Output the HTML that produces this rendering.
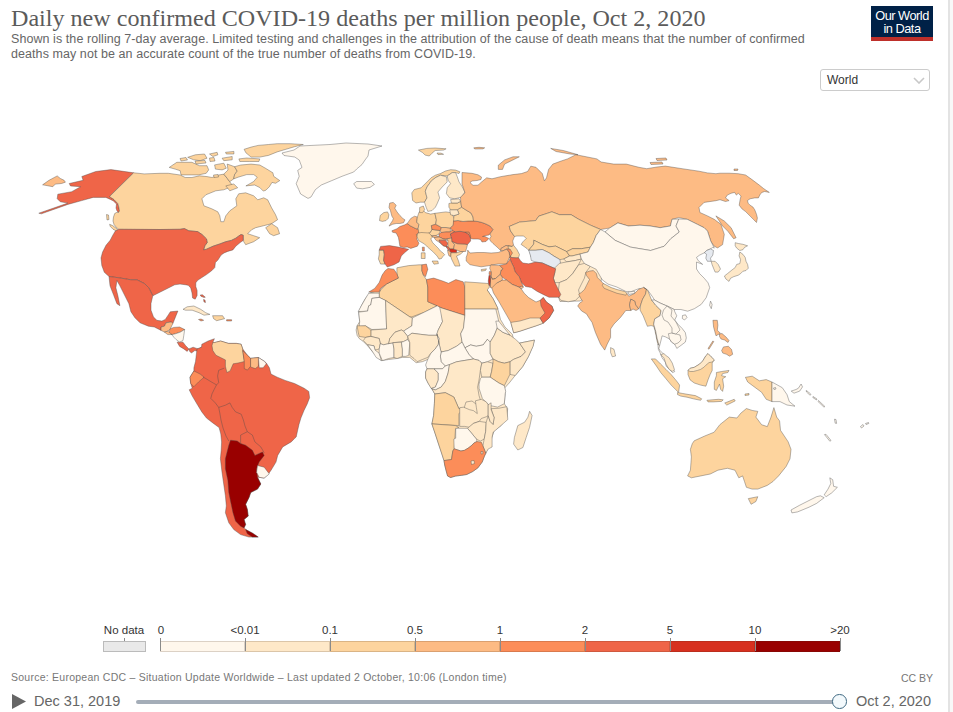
<!DOCTYPE html>
<html><head><meta charset="utf-8">
<style>
html,body{margin:0;padding:0;background:#fff;}
body{width:953px;height:712px;position:relative;overflow:hidden;font-family:"Liberation Sans",sans-serif;}
.abs{position:absolute;white-space:nowrap;}
#title{left:11px;top:5px;font-family:"Liberation Serif",serif;font-size:24.1px;color:#5b5b5b;letter-spacing:0px;}
.sub{left:11px;font-size:12.5px;letter-spacing:0.07px;color:#666;}
#logo{left:871px;top:6px;width:62px;height:35px;background:#002147;}
#logo .bar{position:absolute;left:0;bottom:0;width:62px;height:4px;background:#be2f2a;}
#logo .t{position:absolute;left:0;width:62px;text-align:center;color:#fff;font-size:12.8px;letter-spacing:-0.5px;line-height:13px;}
#sel{left:820px;top:69px;width:108px;height:20px;border:1px solid #ccc;border-radius:3px;}
#sel .t{position:absolute;left:6px;top:3px;font-size:12px;color:#333;}
#edge{left:948px;top:0;width:5px;height:712px;background:linear-gradient(to right,#e3e3e3 0,#e3e3e3 1.6px,#f8f8f8 1.6px,#f8f8f8 100%);}
.lab{position:absolute;top:624px;font-size:11.5px;color:#333;transform:translateX(-50%);}
.bin{position:absolute;top:641px;height:10.5px;border:1px solid rgba(60,40,20,0.18);box-sizing:border-box;}
.tick{position:absolute;top:638px;width:1px;height:13px;background:#8a8a8a;}
#foot{left:11px;top:671px;font-size:10.5px;letter-spacing:0.25px;color:#777;}
#cc{left:901px;top:671.5px;font-size:10.5px;color:#777;}
.date{top:693px;font-size:14.5px;color:#666;}
#track{left:136px;top:700px;width:704px;height:4px;background:#a4adb8;border-radius:2px;}
#knob{left:832.2px;top:694px;width:12.5px;height:12.5px;border:1.6px solid #3f6982;border-radius:50%;background:#f3f9fc;}
</style></head><body>
<div class="abs" id="title">Daily new confirmed COVID-19 deaths per million people, Oct 2, 2020</div>
<div class="abs sub" style="top:31.5px">Shown is the rolling 7-day average. Limited testing and challenges in the attribution of the cause of death means that the number of confirmed</div>
<div class="abs sub" style="top:46.5px">deaths may not be an accurate count of the true number of deaths from COVID-19.</div>
<div class="abs" id="logo"><div class="t" style="top:2.5px">Our World</div><div class="t" style="top:15.5px">in Data</div><div class="bar"></div></div>
<div class="abs" id="sel"><div class="t">World</div>
<svg style="position:absolute;left:92px;top:7px" width="12" height="7" viewBox="0 0 12 7"><path d="M1 1 L6 6 L11 1" fill="none" stroke="#c8c8c8" stroke-width="1.6"/></svg></div>
<div class="abs" id="edge"></div>

<!-- MAP -->
<svg class="abs" style="left:0;top:0" width="953" height="712" viewBox="0 0 953 712" id="map"><g stroke="#4a4a4a" stroke-width="0.4" stroke-linejoin="round"><path d="M133.7,172.8 L110.9,169.6 L95.7,171.5 L81.8,176.5 L83.1,180.3 L69.2,183.5 L70.5,186.0 L80.6,186.7 L71.7,191.7 L57.8,194.2 L57.2,198.7 L60.3,201.8 L67.9,203.1 L38.8,213.2 L41.4,213.8 L67.9,204.4 L81.8,200.6 L93.2,197.4 L105.9,197.4 L110.5,199.5 L113.4,201.0 L116.5,204.0 L116.0,208.0 L117.0,211.0 L118.5,212.5 L119.5,211.0 L118.8,207.0 L117.8,203.5 L114.0,199.5 L109.5,196.5Z" fill="#ef6548"/><path d="M42.6,184.8 L49.0,180.3 L57.2,175.9 L60.3,178.4 L64.1,180.3 L65.4,182.2 L61.6,183.5 L55.3,184.1 L52.8,186.7Z" fill="#fdbb84"/><path d="M133.7,172.8 L144.2,173.9 L160.0,173.3 L168.4,173.3 L180.2,175.0 L185.2,177.5 L191.9,177.5 L199.5,175.8 L207.0,176.6 L212.1,177.5 L218.8,175.0 L223.8,174.1 L227.2,178.3 L229.7,181.7 L232.2,185.0 L228.8,187.8 L223.8,189.8 L215.8,190.8 L205.9,194.8 L201.9,198.8 L203.9,205.8 L211.8,208.8 L217.8,211.8 L219.8,215.8 L220.8,221.7 L223.8,221.7 L225.8,215.8 L229.8,210.8 L236.8,205.8 L235.8,198.8 L238.7,193.8 L245.7,192.8 L253.7,195.8 L257.7,199.8 L263.7,197.8 L267.7,199.8 L271.6,207.8 L275.6,214.8 L277.6,219.7 L271.6,223.7 L263.7,225.7 L255.7,227.7 L251.7,229.7 L247.7,233.7 L253.7,235.7 L259.7,237.7 L253.7,241.7 L245.7,244.7 L243.7,241.7 L243.2,235.2 L241.0,234.5 L238.8,236.0 L235.8,238.2 L231.4,240.4 L225.6,241.8 L219.7,244.0 L213.1,246.2 L206.5,249.2 L203.5,249.9 L205.0,245.5 L207.2,242.6 L206.5,238.9 L202.0,234.5 L197.6,231.6 L188.8,230.8 L184.4,228.6 L180.0,229.3 L160.0,229.5 L118.7,229.3 L116.5,227.5 L114.0,224.5 L113.0,221.0 L113.5,217.0 L114.7,213.5 L116.5,212.5 L118.5,212.5 L119.5,211.0 L118.8,207.0 L117.8,203.5 L114.0,199.5 L109.5,196.5Z" fill="#fdd49e"/><path d="M169.2,167.4 L176.8,162.3 L191.9,162.3 L199.5,165.7 L207.0,165.7 L208.7,169.9 L206.2,173.3 L198.6,174.9 L191.9,174.9 L181.0,174.9 L180.2,170.7 L175.1,169.1Z" fill="#fdd49e"/><path d="M187.7,157.3 L195.3,154.8 L204.5,154.0 L207.0,158.2 L200.3,160.7 L193.6,159.8Z" fill="#fdd49e"/><path d="M209.5,154.0 L217.1,152.3 L217.9,154.8 L212.9,156.5Z" fill="#fdd49e"/><path d="M222.1,158.2 L232.2,156.5 L232.2,159.8 L223.8,160.7Z" fill="#fdd49e"/><path d="M225.5,152.3 L233.9,151.4 L233.9,154.0 L226.3,154.0Z" fill="#fdd49e"/><path d="M214.6,164.9 L223.8,163.2 L226.3,168.2 L222.1,169.9 L215.4,169.1Z" fill="#fdd49e"/><path d="M227.2,164.0 L234.6,166.7 L237.2,171.1 L234.6,174.6 L233.7,178.9 L229.7,181.7 L227.2,178.3 L223.8,174.1 L228.0,170.0Z" fill="#fdd49e"/><path d="M244.1,149.3 L251.1,147.1 L258.1,145.4 L268.5,144.5 L277.2,143.7 L290.3,143.7 L303.3,144.5 L294.6,146.7 L285.9,149.3 L277.2,151.9 L268.5,155.4 L259.8,157.1 L251.1,157.1 L245.9,152.8Z" fill="#fdd49e"/><path d="M238.9,158.9 L246.8,158.0 L259.8,158.9 L258.9,161.5 L249.4,161.5 L239.8,161.5Z" fill="#fdd49e"/><path d="M234.6,166.7 L240.7,165.0 L251.1,164.1 L259.8,165.0 L265.9,168.5 L272.9,172.8 L273.7,176.3 L279.8,180.6 L275.5,183.3 L272.0,182.4 L269.4,186.7 L265.9,190.2 L263.3,191.1 L259.8,187.6 L254.6,185.0 L245.9,185.9 L253.7,181.5 L257.2,177.2 L253.7,174.6 L246.8,174.6 L238.1,177.2 L233.7,178.9 L234.6,174.6 L237.2,171.1Z" fill="#fdd49e"/><path d="M225.8,185.9 L233.8,183.9 L237.7,187.8 L229.8,190.8Z" fill="#fdd49e"/><path d="M109.6,224.3 L112.5,225.5 L116.0,228.0 L118.5,230.8 L117.2,231.5 L113.0,229.2 L110.2,226.3Z" fill="#fdd49e"/><path d="M106.5,214.5 L108.5,215.0 L109.0,219.5 L107.0,220.0Z" fill="#fdd49e"/><path d="M209.5,158.0 L214.0,157.5 L215.0,161.0 L210.0,161.5Z" fill="#fdd49e"/><path d="M180.0,158.5 L186.0,157.5 L187.5,160.0 L181.0,161.0Z" fill="#fdd49e"/><path d="M213.5,175.0 L218.0,174.5 L218.5,177.0 L214.0,177.5Z" fill="#fdd49e"/><path d="M195.0,161.0 L205.0,160.5 L206.0,163.0 L196.0,164.0Z" fill="#fdd49e"/><path d="M265.7,227.7 L271.6,223.7 L277.6,227.7 L279.6,233.7 L273.6,235.7 L269.6,233.7Z" fill="#fdd49e"/><path d="M294.0,150.0 L300.0,146.0 L330.0,144.5 L346.0,143.0 L368.0,144.0 L382.0,146.0 L369.0,150.0 L368.0,156.0 L365.0,160.0 L362.0,164.5 L356.7,169.0 L353.7,172.0 L342.0,176.3 L331.6,180.7 L321.3,185.0 L315.4,189.6 L311.0,197.0 L308.0,198.4 L300.6,194.0 L296.2,183.7 L299.2,176.3 L297.7,170.4 L302.0,167.4 L299.2,160.0 L294.7,157.0 L284.0,155.5 L282.0,153.0Z" fill="#fff7ec"/><path d="M353.7,183.7 L356.7,181.5 L371.4,181.5 L374.4,184.4 L370.0,187.4 L362.6,188.8 L356.7,188.1Z" fill="#fff7ec"/><path d="M118.7,229.3 L160.0,229.5 L180.0,229.3 L184.4,228.6 L188.8,230.8 L197.6,231.6 L202.0,234.5 L206.5,238.9 L207.2,242.6 L205.0,245.5 L203.5,249.9 L206.5,249.2 L213.1,246.2 L219.7,244.0 L225.6,241.8 L231.4,240.4 L235.8,238.2 L238.8,236.0 L241.0,234.5 L243.2,235.2 L243.2,240.4 L240.2,242.6 L235.8,246.2 L232.9,249.9 L227.8,251.4 L224.1,252.9 L221.1,255.1 L217.9,260.1 L215.4,262.6 L214.8,267.6 L211.6,270.8 L206.5,274.6 L201.5,277.8 L197.7,280.3 L195.8,282.8 L195.8,286.6 L197.1,290.4 L197.1,295.5 L195.2,299.2 L192.6,298.0 L192.0,292.9 L190.7,287.9 L188.2,285.3 L185.1,284.7 L180.0,284.1 L174.7,284.8 L166.8,288.8 L158.8,292.8 L152.8,295.8 L148.8,287.8 L144.8,283.8 L136.9,279.8 L130.9,279.8 L118.9,277.8 L109.0,276.5 L104.3,272.3 L101.8,265.5 L101.0,257.9 L102.6,252.0 L106.0,245.3 L110.2,240.2 L112.8,235.2 L115.3,231.0Z" fill="#ef6548"/><path d="M109.0,276.5 L118.9,277.8 L130.9,279.8 L136.9,279.8 L144.8,283.8 L148.8,287.8 L152.8,295.8 L151.0,303.4 L151.0,310.2 L153.5,316.9 L156.8,320.3 L161.9,321.1 L165.3,319.4 L168.6,314.4 L170.3,311.8 L177.9,311.0 L176.2,315.2 L174.5,319.4 L172.9,323.6 L171.2,322.0 L166.1,322.8 L164.4,326.2 L161.1,327.0 L161.1,330.4 L154.3,327.0 L148.4,326.2 L140.0,322.8 L134.9,317.7 L130.9,311.7 L128.9,303.7 L122.9,291.8 L119.9,285.8 L116.9,280.5 L115.9,287.8 L117.9,295.8 L119.9,305.7 L116.9,303.7 L113.9,295.8 L110.0,285.8Z" fill="#ef6548"/><path d="M161.1,330.4 L161.1,327.0 L164.4,326.2 L166.1,322.8 L171.2,322.0 L172.9,323.6 L172.0,325.3 L170.3,328.7 L167.8,331.2 L164.4,332.1Z" fill="#fdbb84"/><path d="M170.3,328.7 L173.7,327.4 L179.6,327.0 L184.7,329.5 L180.4,332.1 L175.4,333.8 L172.0,334.6 L168.6,332.9Z" fill="#fc8d59"/><path d="M164.4,332.1 L167.8,331.2 L172.0,334.6 L167.8,334.6Z" fill="#fdbb84"/><path d="M172.0,334.6 L175.4,333.8 L180.4,332.1 L184.7,329.5 L183.8,335.4 L183.0,340.5 L179.6,342.2 L176.2,339.6 L173.7,337.1Z" fill="#fff7ec"/><path d="M177.1,342.2 L179.6,342.2 L183.0,342.2 L185.5,345.5 L188.9,348.9 L187.2,351.4 L183.8,348.9 L179.6,346.4Z" fill="#ef6548"/><path d="M188.9,348.9 L193.1,347.2 L198.1,348.9 L201.5,347.2 L202.3,349.8 L199.0,351.4 L194.8,350.6 L191.4,353.1 L189.7,351.4Z" fill="#ef6548"/><path d="M183.0,309.3 L187.2,306.8 L193.9,306.0 L200.7,309.3 L205.7,312.7 L209.9,314.4 L204.0,315.2 L199.0,312.7 L192.2,310.2 L185.5,310.2Z" fill="#fee8c8"/><path d="M212.6,315.7 L222.6,315.7 L224.6,318.7 L216.6,320.7 L213.6,318.7Z" fill="#fdd49e"/><path d="M198.5,319.5 L201.0,319.0 L203.7,320.3 L201.0,321.0Z" fill="#fc8d59"/><path d="M226.6,319.7 L231.6,319.7 L231.6,321.0 L226.6,321.0Z" fill="#fc8d59"/><path d="M200.2,295.0 L202.5,294.8 L205.3,297.2 L204.0,297.5 L201.0,296.3Z" fill="#ef6548"/><path d="M203.5,299.5 L205.0,300.0 L205.5,302.5 L204.0,302.0Z" fill="#ef6548"/><path d="M197.0,348.9 L201.5,347.2 L201.8,344.2 L208.1,341.0 L214.4,338.7 L212.8,342.6 L214.4,342.6 L220.6,341.0 L228.5,343.4 L236.4,343.4 L241.1,344.2 L242.7,348.9 L247.4,355.2 L250.6,358.3 L258.4,357.5 L264.7,361.5 L266.3,363.0 L269.4,367.8 L271.0,374.1 L277.3,377.2 L285.2,380.4 L294.6,383.5 L304.1,388.2 L308.8,391.4 L309.6,397.7 L307.2,404.0 L304.1,410.3 L300.9,418.1 L299.0,424.4 L297.5,431.0 L296.2,437.0 L294.6,438.5 L291.2,441.9 L282.7,446.9 L277.7,455.4 L276.0,462.1 L270.9,470.5 L268.4,473.9 L264.2,478.1 L259.1,477.3 L257.5,477.3 L260.8,484.0 L257.5,489.1 L250.7,492.5 L249.0,497.5 L245.6,504.3 L247.3,509.3 L248.2,516.1 L244.0,519.4 L245.6,524.5 L244.0,527.9 L247.3,530.4 L254.1,534.6 L257.5,537.1 L249.0,537.1 L240.6,534.6 L233.8,529.6 L228.8,522.8 L225.4,512.7 L226.3,505.9 L225.4,495.8 L223.7,484.0 L222.0,472.2 L220.4,458.7 L221.2,450.3 L221.6,442.0 L220.8,434.0 L219.1,427.6 L212.8,422.9 L206.5,418.1 L201.8,411.9 L197.0,404.0 L192.3,396.1 L189.2,389.8 L192.3,388.2 L190.7,383.5 L190.0,377.2 L193.9,370.9 L193.9,367.8 L195.5,361.5Z" fill="#ef6548"/><path d="M230.5,440.2 L237.2,441.0 L240.6,443.5 L245.6,445.2 L252.4,450.3 L254.9,455.4 L262.5,452.0 L264.2,455.4 L259.1,462.1 L256.6,468.8 L257.5,477.3 L260.8,484.0 L257.5,489.1 L250.7,492.5 L249.0,497.5 L245.6,504.3 L247.3,509.3 L248.2,516.1 L244.0,519.4 L245.6,524.5 L244.0,527.9 L240.6,526.2 L235.5,521.1 L233.0,512.7 L230.5,500.9 L228.8,492.5 L227.9,480.6 L225.4,468.8 L225.4,458.7 L227.1,452.0 L228.8,445.2Z" fill="#990000"/><path d="M245.6,529.6 L252.4,532.9 L258.3,537.1 L252.4,537.1 L247.3,533.8Z" fill="#990000"/><path d="M257.5,465.5 L264.2,467.2 L269.3,473.9 L264.2,478.1 L259.1,477.3 L256.6,472.2Z" fill="#fff7ec"/><path d="M212.8,342.6 L214.4,342.6 L220.6,341.0 L228.5,343.4 L236.4,343.4 L241.1,344.2 L242.7,348.9 L242.7,350.5 L244.3,361.5 L238.0,363.0 L233.2,363.8 L230.1,370.9 L226.9,372.5 L225.4,366.2 L225.4,359.9 L220.6,357.5 L215.9,355.2 L212.8,350.5 L212.0,345.7Z" fill="#fdd49e"/><path d="M242.7,350.5 L247.4,355.2 L250.6,358.3 L250.6,366.2 L247.4,370.1 L244.3,368.6 L244.3,361.5Z" fill="#fc8d59"/><path d="M250.6,358.3 L258.4,357.5 L258.4,366.2 L255.3,368.6 L250.6,367.0Z" fill="#fdbb84"/><path d="M258.4,357.5 L264.7,361.5 L266.3,363.8 L263.1,367.8 L259.2,367.8Z" fill="#fff7ec"/><path d="M193.9,370.9 L190.0,377.2 L190.7,383.5 L193.9,386.7 L198.6,381.9 L204.1,377.2 L200.2,374.1Z" fill="#fc8d59"/><path d="M411.8,192.9 L414.3,189.5 L421.1,187.8 L427.0,181.9 L431.2,177.7 L435.4,175.2 L440.5,173.5 L445.5,171.0 L450.6,169.7 L455.6,170.1 L459.9,171.8 L459.0,173.5 L455.6,172.6 L452.3,172.6 L447.2,176.0 L440.5,175.2 L435.4,177.7 L431.2,181.1 L427.0,187.0 L425.3,191.2 L427.0,197.9 L424.5,202.2 L420.2,202.2 L416.0,203.0 L412.6,200.5Z" fill="#fdd49e"/><path d="M425.3,191.2 L427.0,187.0 L431.2,181.1 L435.4,177.7 L440.5,175.2 L446.4,176.9 L447.2,181.9 L442.2,187.0 L437.9,192.0 L439.6,197.9 L437.1,203.8 L435.4,207.2 L432.0,210.6 L427.8,211.4 L426.1,207.2 L424.5,202.2 L427.0,197.9Z" fill="#fee8c8"/><path d="M447.2,176.0 L452.3,172.6 L455.6,172.6 L457.3,176.9 L459.0,181.9 L462.4,187.0 L464.9,192.0 L461.6,197.1 L454.8,198.8 L449.7,197.9 L446.4,193.7 L447.2,187.8 L450.6,183.6 L448.1,180.2Z" fill="#fee8c8"/><path d="M389.7,203.1 L393.3,202.4 L396.2,205.3 L394.8,208.2 L397.0,211.9 L399.9,215.5 L402.8,218.4 L405.0,219.9 L403.5,222.8 L399.9,223.5 L396.2,223.5 L392.6,224.3 L389.0,226.1 L391.1,222.8 L392.6,220.6 L393.3,218.4 L391.9,216.2 L391.1,213.3 L390.4,210.4 L389.0,207.5Z" fill="#fdbb84"/><path d="M380.2,215.5 L383.8,212.6 L387.5,211.9 L388.9,214.8 L388.2,218.4 L386.0,220.6 L382.4,221.4 L379.5,220.6Z" fill="#fdd49e"/><path d="M379.2,250.1 L383.6,250.1 L384.3,254.5 L383.6,260.4 L385.1,264.1 L380.6,264.1 L378.4,258.9 L379.2,254.5Z" fill="#fdd49e"/><path d="M380.6,246.4 L389.5,245.6 L398.3,247.1 L408.7,249.3 L404.2,253.0 L401.3,256.0 L399.1,261.9 L393.9,264.8 L387.3,267.0 L385.1,264.1 L383.6,260.4 L384.3,254.5 L383.6,250.1 L379.2,250.1Z" fill="#ef6548"/><path d="M391.9,230.8 L397.0,228.7 L399.9,226.5 L404.3,225.0 L407.2,223.5 L410.1,225.7 L416.0,228.7 L419.6,230.1 L418.1,236.0 L416.7,238.9 L418.9,243.3 L417.4,246.2 L410.8,248.4 L407.2,246.9 L403.5,247.6 L399.9,246.2 L399.2,241.8 L398.4,237.4 L396.2,233.0 L392.6,232.3Z" fill="#fc8d59"/><path d="M408.7,221.4 L410.8,218.4 L414.5,216.2 L417.4,217.0 L416.7,222.1 L418.9,224.3 L418.1,228.7 L416.0,228.7 L410.1,225.7 L407.2,223.5Z" fill="#fdbb84"/><path d="M417.4,217.0 L418.9,212.6 L421.8,208.9 L425.4,212.6 L430.6,214.1 L434.9,213.3 L436.4,219.9 L435.7,224.3 L431.3,225.7 L432.0,229.4 L430.6,232.3 L426.2,234.5 L421.8,233.8 L418.9,233.8 L418.1,228.7 L418.9,224.3 L416.7,222.1Z" fill="#fdd49e"/><path d="M419.6,207.5 L423.3,206.0 L424.7,209.7 L422.5,212.6 L419.6,212.6Z" fill="#fdd49e"/><path d="M416.3,234.5 L418.9,233.8 L421.8,233.8 L423.2,235.5 L421.5,237.6 L417.5,237.2Z" fill="#fdd49e"/><path d="M421.3,233.0 L426.2,234.5 L430.6,232.3 L432.0,229.4 L436.0,230.0 L440.3,230.5 L439.0,234.0 L436.0,235.5 L431.5,236.0 L425.0,236.5 L421.3,234.5Z" fill="#fdd49e"/><path d="M431.3,225.7 L435.7,224.3 L439.0,226.0 L441.5,227.5 L440.3,230.5 L436.0,230.0 L432.0,229.4Z" fill="#fc8d59"/><path d="M440.3,230.5 L441.5,227.5 L446.0,227.5 L450.4,228.0 L450.4,232.0 L446.0,232.0 L441.0,232.6Z" fill="#fdbb84"/><path d="M434.9,213.3 L445.8,211.9 L450.0,212.5 L452.7,215.0 L454.6,219.3 L453.2,225.2 L450.4,228.0 L446.0,227.5 L441.5,227.5 L439.0,226.0 L435.7,224.3 L436.4,219.9Z" fill="#fdd49e"/><path d="M439.0,234.0 L441.0,232.6 L446.0,232.0 L450.4,232.0 L452.0,230.0 L455.0,231.8 L450.4,234.0 L451.7,238.0 L446.6,238.9 L443.4,238.9 L439.0,237.0Z" fill="#fc8d59"/><path d="M417.5,233.2 L421.3,232.5 L429.0,233.0 L432.7,237.0 L430.8,238.9 L432.7,242.7 L435.2,245.2 L438.4,248.4 L440.3,250.9 L442.8,252.8 L444.7,254.7 L442.8,256.6 L441.5,258.5 L439.0,259.1 L437.1,256.0 L432.7,251.5 L427.6,247.1 L424.5,244.0 L418.8,240.8 L417.0,237.0Z" fill="#fdd49e"/><path d="M432.1,261.0 L437.8,261.0 L438.4,263.6 L434.0,264.2Z" fill="#fdd49e"/><path d="M421.3,252.8 L425.1,252.8 L425.1,258.5 L421.3,258.5Z" fill="#fdd49e"/><path d="M422.3,247.2 L424.3,247.2 L424.3,251.0 L422.5,251.0Z" fill="#fc8d59"/><path d="M431.5,236.0 L436.0,235.5 L439.0,237.0 L434.0,237.6Z" fill="#fdbb84"/><path d="M434.0,237.6 L439.0,237.0 L443.4,238.9 L447.9,240.2 L445.3,240.2 L439.0,240.2 L440.3,242.7 L443.4,245.9 L446.6,246.5 L447.0,248.0 L444.7,244.0 L441.5,244.0 L439.0,242.1 L435.9,240.2Z" fill="#fdbb84"/><path d="M439.0,240.2 L445.3,240.2 L447.9,243.3 L446.6,246.5 L443.4,245.9 L440.3,242.7Z" fill="#ef6548"/><path d="M446.6,238.9 L451.7,238.0 L452.0,241.4 L454.5,244.5 L453.5,249.0 L449.8,249.0 L448.0,246.5 L447.9,243.3 L447.9,240.2Z" fill="#fdbb84"/><path d="M446.6,246.5 L448.0,246.5 L449.8,249.0 L448.5,250.5 L447.0,248.0Z" fill="#ef6548"/><path d="M449.8,249.0 L453.5,249.0 L456.7,250.0 L456.7,252.8 L451.0,252.8 L449.5,251.0Z" fill="#d7301f"/><path d="M447.5,250.0 L449.5,251.0 L451.0,252.8 L450.8,256.5 L449.0,256.0 L448.0,253.0Z" fill="#fdbb84"/><path d="M450.8,256.5 L451.0,252.8 L456.7,252.8 L460.5,251.5 L463.5,251.5 L460.0,254.5 L456.5,256.0 L458.5,261.0 L460.0,266.0 L455.0,266.1 L453.0,262.0 L451.5,259.0Z" fill="#fdd49e"/><path d="M452.0,241.4 L457.6,243.7 L465.0,244.0 L467.5,244.6 L466.5,248.5 L465.6,251.5 L460.5,251.5 L456.7,250.0 L453.5,249.0 L454.5,244.5Z" fill="#fdbb84"/><path d="M450.4,234.0 L455.0,231.8 L460.0,231.3 L465.0,232.0 L469.0,234.5 L470.6,238.0 L470.6,241.0 L467.5,244.6 L465.0,244.0 L457.6,243.7 L452.0,241.4 L451.7,238.0Z" fill="#ef6548"/><path d="M465.0,232.0 L469.0,231.5 L471.5,236.0 L470.6,238.0 L469.0,234.5Z" fill="#fc8d59"/><path d="M453.5,221.0 L458.0,220.5 L463.0,221.5 L468.0,221.0 L473.5,221.0 L478.0,221.5 L482.0,222.5 L486.0,224.0 L490.0,226.0 L493.1,229.5 L491.0,232.5 L489.0,235.0 L486.0,235.5 L482.5,236.5 L485.0,236.5 L488.9,238.5 L486.0,241.5 L482.0,242.0 L480.5,239.5 L478.0,239.0 L473.0,239.0 L470.6,238.5 L470.6,236.0 L469.0,232.0 L465.0,232.0 L460.0,231.3 L455.0,231.8 L452.0,230.0 L450.4,228.0 L453.2,225.2Z" fill="#fc8d59"/><path d="M457.3,209.7 L461.6,207.2 L466.0,210.0 L471.0,213.0 L473.0,217.0 L473.5,221.0 L468.0,221.0 L463.0,221.5 L458.0,220.5 L453.5,221.0 L454.0,215.6 L459.0,214.0Z" fill="#fdd49e"/><path d="M449.7,209.7 L457.3,209.7 L459.0,214.0 L454.0,215.6 L450.6,214.8Z" fill="#fee8c8"/><path d="M448.9,203.5 L451.4,203.0 L457.3,203.0 L460.7,201.3 L461.6,207.2 L457.3,209.7 L450.6,209.7 L448.9,207.2Z" fill="#fdd49e"/><path d="M450.6,199.6 L459.0,198.8 L460.7,201.3 L457.3,203.0 L451.4,203.0Z" fill="#fee8c8"/><path d="M418.4,150.1 L426.8,148.4 L435.2,148.0 L446.1,148.8 L443.6,150.1 L435.2,150.5 L431.8,153.4 L429.3,156.0 L425.1,155.1 L422.6,152.6Z" fill="#fdd49e"/><path d="M437.0,153.0 L441.0,153.2 L443.6,154.3 L438.0,154.6Z" fill="#fdd49e"/><path d="M462.0,172.5 L466.0,172.8 L472.0,173.3 L478.0,174.8 L481.5,177.0 L481.0,179.5 L477.0,180.5 L472.0,181.0 L470.0,182.5 L473.0,185.3 L478.0,185.2 L481.5,182.0 L486.7,177.8 L492.0,178.8 L500.4,176.7 L513.0,174.6 L521.4,173.6 L527.6,171.5 L530.8,166.2 L536.0,167.3 L542.3,173.6 L544.4,180.9 L546.5,177.8 L548.6,169.4 L552.8,164.1 L561.2,161.0 L567.5,158.9 L575.9,154.7 L586.4,156.8 L596.9,158.9 L601.1,162.0 L613.7,164.1 L626.3,164.1 L638.9,167.3 L646.7,168.7 L656.9,167.0 L665.3,166.1 L682.2,168.7 L699.0,171.2 L707.5,172.9 L715.9,173.7 L720.0,173.2 L729.1,173.2 L738.3,173.7 L745.6,175.0 L752.0,179.6 L759.3,185.1 L763.8,188.7 L769.3,192.4 L764.7,191.5 L762.0,192.4 L760.2,194.2 L758.4,197.9 L754.7,197.9 L750.1,198.8 L747.4,200.6 L748.3,203.4 L750.1,205.2 L752.9,207.0 L754.7,209.7 L756.5,214.3 L757.4,218.0 L756.5,222.5 L753.8,219.8 L750.1,216.1 L745.6,211.6 L741.9,208.8 L739.2,205.2 L740.1,199.7 L741.0,196.1 L738.3,193.3 L736.4,195.1 L734.6,192.4 L731.0,193.3 L727.3,195.1 L725.5,197.9 L729.1,200.6 L725.5,201.5 L720.0,199.7 L715.9,200.7 L704.1,202.4 L699.0,207.5 L699.9,212.5 L707.5,215.9 L714.2,219.3 L720.9,224.3 L724.3,234.4 L722.6,244.6 L717.6,247.9 L714.2,246.2 L710.8,241.2 L707.5,231.1 L704.1,227.7 L697.3,224.3 L687.2,219.3 L678.8,217.6 L672.0,219.3 L670.4,226.0 L660.2,227.7 L650.1,226.0 L640.0,225.2 L628.4,226.0 L617.9,222.9 L609.5,228.1 L600.6,229.5 L590.3,225.1 L578.5,219.2 L571.1,214.7 L559.3,214.7 L551.9,211.8 L538.7,216.2 L535.7,220.6 L519.5,222.1 L509.2,226.5 L510.6,231.0 L514.5,236.5 L512.7,241.0 L513.5,245.2 L512.0,246.5 L506.0,245.5 L501.0,248.5 L500.7,250.6 L497.0,247.0 L493.0,243.5 L490.5,241.0 L489.5,239.0 L491.0,236.5 L490.0,234.0 L491.0,232.5 L493.1,229.5 L490.0,226.0 L486.0,224.0 L482.0,222.5 L478.0,221.5 L473.5,221.0 L473.0,217.0 L471.0,213.0 L466.0,210.0 L461.6,207.2 L460.7,201.3 L460.5,197.2 L465.0,192.8 L462.0,183.9Z" fill="#fdbb84"/><path d="M498.3,165.2 L504.6,159.9 L513.0,156.8 L519.3,156.8 L513.0,159.9 L504.6,164.1 L502.5,169.4 L498.3,169.4Z" fill="#fdbb84"/><path d="M550.7,148.4 L563.3,150.5 L578.0,154.7 L570.0,154.0 L556.0,151.5Z" fill="#fdbb84"/><path d="M473.8,147.8 L479.0,147.3 L484.7,147.8 L483.0,148.9 L474.7,149.0Z" fill="#fdbb84"/><path d="M650.0,162.5 L662.0,162.0 L663.0,164.0 L651.0,164.5Z" fill="#fdbb84"/><path d="M656.0,158.5 L666.0,158.0 L667.0,160.0 L657.0,160.5Z" fill="#fdbb84"/><path d="M734.0,169.0 L738.0,169.0 L737.5,170.5 L734.0,170.5Z" fill="#fdbb84"/><path d="M715.9,215.9 L724.3,221.0 L731.1,227.7 L736.1,237.8 L733.6,238.7 L727.7,231.1 L722.6,226.0Z" fill="#fdbb84"/><path d="M529.0,248.0 L560.0,247.0 L575.0,247.0 L590.0,246.0 L600.0,232.0 L606.0,240.0 L600.0,290.0 L580.0,301.0 L560.0,301.5 L556.0,290.0 L553.0,280.0 L549.0,265.0 L531.0,257.0Z" fill="#fee8c8"/><path d="M509.2,226.5 L519.5,222.1 L535.7,220.6 L538.7,216.2 L551.9,211.8 L559.3,214.7 L571.1,214.7 L578.5,219.2 L590.3,225.1 L600.6,229.5 L596.2,235.4 L593.2,242.8 L590.3,247.2 L581.4,248.7 L572.6,248.7 L566.7,251.6 L560.8,248.7 L555.7,246.1 L549.0,246.9 L542.2,244.4 L533.8,240.2 L533.8,244.0 L528.7,250.3 L527.0,248.6 L521.1,244.4 L522.8,241.9 L526.2,238.5 L523.7,236.0 L516.9,236.0 L514.5,236.5 L510.6,231.0Z" fill="#fdd49e"/><path d="M533.8,240.2 L542.2,244.4 L549.0,246.9 L555.7,246.1 L560.8,248.7 L566.7,251.6 L569.6,256.0 L563.7,259.0 L559.9,259.6 L554.0,256.2 L549.0,252.8 L542.2,249.5 L535.5,250.3 L528.7,250.3 L533.8,244.0Z" fill="#fdd49e"/><path d="M528.7,250.3 L535.5,250.3 L542.2,249.5 L549.0,252.8 L554.0,256.2 L559.9,259.6 L560.8,264.6 L555.7,268.8 L549.8,266.3 L542.2,262.9 L535.5,262.1 L531.3,260.4 L530.4,255.4Z" fill="#e6eaf0"/><path d="M566.7,251.6 L572.6,248.7 L581.4,248.7 L590.3,247.2 L588.0,252.0 L580.0,254.0 L572.0,256.0 L569.6,256.0Z" fill="#fdd49e"/><path d="M569.6,256.0 L572.0,256.0 L580.0,254.0 L581.4,259.0 L575.5,260.5 L566.7,261.9 L563.7,259.0Z" fill="#fee8c8"/><path d="M559.3,263.4 L566.7,261.9 L575.5,260.5 L581.4,259.0 L578.5,264.9 L575.5,269.3 L572.6,273.7 L566.7,279.6 L559.3,282.6 L554.9,282.6 L553.4,278.2 L554.9,272.3 L554.9,267.8Z" fill="#fee8c8"/><path d="M578.5,264.9 L584.4,263.4 L590.3,266.4 L585.9,272.3 L584.4,278.2 L581.4,284.1 L578.5,290.0 L580.0,295.9 L575.5,300.3 L568.2,301.8 L560.8,300.3 L557.8,295.9 L559.3,282.6 L566.7,279.6 L572.6,273.7Z" fill="#fee8c8"/><path d="M500.7,250.6 L501.0,248.5 L506.0,245.5 L512.0,246.5 L510.0,249.0 L506.5,249.2 L503.0,250.8Z" fill="#fdbb84"/><path d="M508.0,246.0 L512.0,246.5 L513.5,245.2 L516.9,249.5 L519.5,254.5 L518.5,257.8 L516.1,257.9 L512.2,257.6 L510.0,256.9 L509.0,252.0Z" fill="#fdd49e"/><path d="M506.5,249.2 L510.0,249.0 L512.5,253.0 L510.0,256.9 L509.0,252.0Z" fill="#fc8d59"/><path d="M467.7,250.1 L470.0,253.0 L477.0,252.5 L484.1,252.5 L491.1,253.0 L498.1,252.5 L500.7,251.5 L503.0,250.8 L506.5,249.2 L509.0,252.0 L510.0,256.9 L509.4,257.5 L506.5,264.0 L498.1,264.0 L491.1,265.0 L490.4,265.4 L486.2,266.1 L481.2,266.8 L477.0,266.1 L470.0,264.7 L466.2,261.0 L466.2,257.4 L467.7,253.0Z" fill="#fdbb84"/><path d="M509.4,256.9 L512.2,257.6 L516.1,257.9 L518.5,257.8 L520.3,260.4 L522.8,263.0 L528.7,263.8 L535.5,262.1 L542.2,262.9 L549.8,266.3 L555.7,268.8 L554.9,272.3 L553.4,278.2 L554.9,282.6 L557.8,288.5 L560.8,294.4 L559.3,297.3 L549.0,297.3 L543.1,294.4 L537.2,291.4 L531.3,287.5 L525.5,286.5 L521.3,282.2 L519.2,276.6 L515.0,271.7 L513.6,266.8 L511.5,262.6Z" fill="#ef6548"/><path d="M499.5,265.4 L506.5,264.0 L510.0,259.1 L511.5,262.6 L513.6,266.8 L515.0,271.7 L519.2,276.6 L521.3,282.2 L523.4,286.5 L519.2,287.2 L512.2,284.4 L506.5,280.1 L502.3,277.3 L500.2,274.5 L500.9,270.3 L503.0,268.9Z" fill="#fc8d59"/><path d="M490.4,265.4 L491.1,265.0 L499.5,265.4 L503.0,268.9 L500.9,270.3 L500.2,274.5 L495.3,278.7 L492.5,279.4 L491.1,276.6 L491.1,271.7 L489.7,268.2Z" fill="#fdbb84"/><path d="M490.4,287.2 L490.4,280.8 L491.1,276.6 L492.5,279.4 L495.3,278.7 L496.7,283.0 L502.3,280.1 L506.5,280.1 L512.2,284.4 L519.2,287.2 L521.0,288.5 L524.2,293.2 L528.7,297.6 L536.0,302.0 L540.3,300.3 L543.2,297.4 L546.2,301.8 L552.1,306.2 L553.6,310.6 L549.1,318.0 L543.2,323.2 L537.3,325.4 L528.5,328.3 L519.6,331.3 L513.7,332.8 L510.8,322.4 L504.9,312.1 L499.0,301.8 L493.5,293.0 L491.8,287.9Z" fill="#fdbb84"/><path d="M510.8,322.4 L520.0,321.0 L530.0,318.0 L540.0,318.0 L543.2,323.2 L537.3,325.4 L528.5,328.3 L519.6,331.3 L513.7,332.8Z" fill="#fee8c8"/><path d="M543.4,297.6 L546.2,301.8 L552.1,306.2 L553.6,310.6 L549.1,318.0 L543.2,323.2 L540.0,318.0 L545.0,313.0 L541.0,306.0 L540.3,300.3Z" fill="#ef6548"/><path d="M490.4,280.8 L491.1,276.6 L492.5,279.4 L495.3,278.7 L500.2,274.5 L502.3,277.3 L502.3,280.1 L496.7,283.0 L493.9,285.8 L491.8,287.9 L490.4,287.2Z" fill="#fdbb84"/><path d="M489.0,275.2 L490.4,275.9 L490.4,280.8 L489.7,285.8 L488.6,285.8 L488.3,280.8Z" fill="#d7301f"/><path d="M489.3,271.5 L491.1,271.7 L491.1,275.5 L489.8,275.5 L489.0,274.0Z" fill="#fc8d59"/><path d="M519.5,287.0 L522.0,286.0 L523.4,287.5 L521.0,288.8Z" fill="#fdbb84"/><path d="M481.2,269.5 L486.5,268.8 L485.5,270.5 L481.5,271.2Z" fill="#fdd49e"/><path d="M605.0,231.9 L609.5,228.1 L617.9,222.9 L628.4,226.0 L640.0,225.2 L650.1,226.0 L660.2,227.7 L670.4,226.0 L672.0,219.3 L678.8,219.0 L676.0,226.0 L679.3,232.0 L670.8,238.7 L664.1,246.3 L650.6,250.5 L630.4,247.1 L615.2,240.4Z" fill="#fff7ec"/><path d="M590.3,247.2 L593.2,242.8 L596.2,235.4 L600.6,229.5 L605.0,231.9 L615.2,240.4 L630.4,247.1 L650.6,250.5 L664.1,246.3 L670.8,238.7 L679.3,232.0 L676.0,226.0 L678.8,219.0 L687.2,219.3 L697.3,224.3 L704.1,227.7 L707.5,231.1 L710.8,241.2 L714.3,248.1 L712.8,247.4 L710.5,248.9 L706.6,250.5 L704.3,252.8 L699.6,255.1 L696.5,257.4 L698.1,260.5 L702.7,264.4 L696.5,262.0 L696.5,269.0 L699.6,273.6 L704.3,278.3 L708.1,282.9 L709.7,287.6 L706.2,297.7 L701.2,304.4 L694.4,308.7 L687.7,311.2 L680.9,309.5 L674.2,309.5 L667.0,306.0 L660.0,303.0 L654.4,300.0 L652.7,297.0 L647.7,290.2 L639.3,288.5 L630.0,292.0 L625.7,291.4 L616.8,287.0 L608.0,284.1 L602.1,279.6 L596.2,269.3 L590.3,266.4 L584.4,263.4 L581.4,259.0 L580.0,254.0 L588.0,252.0Z" fill="#fff7ec"/><path d="M706.6,250.5 L710.5,248.9 L713.5,250.5 L712.8,255.1 L710.5,258.2 L711.2,261.3 L707.4,261.3 L705.8,258.2 L706.6,254.3 L704.3,252.8Z" fill="#e6eaf0"/><path d="M711.2,261.3 L715.1,261.3 L718.2,264.4 L720.5,269.0 L718.2,272.1 L715.1,272.1 L713.5,268.2 L712.0,264.4Z" fill="#fee8c8"/><path d="M739.8,252.0 L742.9,254.3 L745.2,257.4 L746.0,261.3 L747.6,264.4 L748.3,268.2 L746.0,270.5 L742.9,271.3 L740.6,273.6 L738.3,275.2 L733.6,276.7 L730.5,278.3 L729.0,281.4 L725.9,279.0 L724.4,276.0 L727.5,273.6 L731.3,270.5 L735.2,267.5 L736.7,264.4 L739.8,263.6 L740.6,259.7 L739.1,255.9Z" fill="#fee8c8"/><path d="M735.2,242.7 L738.3,243.5 L742.9,244.3 L747.6,245.8 L744.5,247.4 L742.9,249.7 L739.8,250.5 L736.7,248.1 L735.2,245.8Z" fill="#fee8c8"/><path d="M710.5,301.1 L712.1,304.4 L711.3,308.7 L709.6,305.3Z" fill="#fff7ec"/><path d="M585.6,272.6 L589.5,271.1 L593.4,270.6 L596.4,273.6 L597.4,277.5 L599.3,279.5 L603.3,283.4 L605.2,285.4 L611.1,288.3 L617.0,290.3 L624.9,292.3 L626.9,293.3 L628.8,296.2 L634.7,293.3 L638.7,289.3 L643.6,287.4 L646.5,289.3 L645.5,294.2 L642.6,299.2 L640.6,305.1 L638.7,309.0 L635.7,305.1 L634.7,301.1 L630.8,299.2 L629.5,305.0 L630.8,310.5 L625.8,310.5 L620.7,317.2 L614.0,324.0 L610.6,329.0 L610.6,337.5 L607.2,344.2 L604.7,350.1 L600.5,344.2 L595.4,332.4 L592.0,322.3 L589.5,318.8 L586.5,313.9 L581.6,311.0 L577.7,306.0 L579.7,303.1 L582.6,301.1 L580.6,298.2 L578.7,294.2 L581.6,292.3 L584.6,289.3 L586.5,285.4 L589.5,279.5 L586.5,275.6Z" fill="#fdbb84"/><path d="M630.8,299.2 L634.7,301.1 L635.7,305.1 L638.7,309.0 L636.0,310.5 L633.0,309.0 L630.8,310.5 L629.5,305.0Z" fill="#fdbb84"/><path d="M627.8,292.0 L634.7,291.3 L634.7,293.3 L628.8,294.5Z" fill="#fff7ec"/><path d="M603.3,283.4 L611.1,287.5 L617.0,289.5 L624.9,291.5 L626.9,293.3 L625.9,295.2 L617.0,293.3 L609.2,290.3 L604.2,288.3 L602.3,285.4Z" fill="#fdd49e"/><path d="M610.6,347.6 L614.0,349.3 L615.6,356.0 L612.3,356.8 L610.6,352.6Z" fill="#fee8c8"/><path d="M643.6,287.4 L647.7,290.2 L651.6,300.0 L655.8,305.3 L661.1,310.5 L660.0,315.8 L654.7,318.9 L653.7,324.2 L655.8,331.6 L657.0,338.0 L659.0,345.3 L657.9,344.2 L656.8,340.0 L655.8,334.7 L654.7,329.5 L653.7,326.3 L651.1,325.6 L647.4,326.3 L645.3,321.1 L643.2,315.8 L640.0,310.0 L640.6,305.1 L642.6,299.2 L645.5,294.2 L646.5,289.3Z" fill="#fdd49e"/><path d="M651.6,300.0 L654.4,300.0 L660.0,303.0 L667.0,306.0 L674.2,309.5 L674.7,311.6 L676.8,315.8 L674.7,320.0 L677.9,324.2 L682.1,328.4 L685.3,332.6 L686.3,337.9 L685.3,342.1 L681.1,345.3 L676.8,348.4 L674.7,344.2 L671.6,342.1 L669.5,338.9 L665.3,336.8 L662.1,335.8 L661.1,340.0 L660.0,344.2 L658.9,348.4 L660.0,350.5 L663.2,353.7 L665.3,357.9 L668.4,361.1 L670.5,365.3 L673.7,369.5 L674.7,371.6 L672.6,372.6 L669.5,369.5 L666.3,366.3 L665.3,362.1 L662.1,357.9 L660.0,352.6 L658.4,349.5 L657.9,344.2 L659.0,345.3 L657.0,338.0 L655.8,331.6 L653.7,324.2 L654.7,318.9 L660.0,315.8 L661.1,310.5 L655.8,305.3Z" fill="#fff7ec"/><path d="M660.7,354.7 L663.9,353.6 L666.0,355.5 L669.1,357.8 L672.3,363.1 L674.4,369.4 L672.3,371.5 L669.1,369.4 L666.0,364.1 L663.9,357.8Z" fill="#fee8c8"/><path d="M668.4,333.7 L672.0,333.0 L676.0,334.0 L680.0,335.0 L681.1,340.0 L678.0,343.0 L674.7,344.2 L671.6,342.1 L669.5,338.9Z" fill="#fff7ec"/><path d="M663.5,310.0 L667.0,306.0 L672.0,310.0 L671.0,316.0 L676.0,322.0 L680.0,330.0 L676.0,334.0 L672.0,333.0 L672.0,328.0 L668.0,322.0 L664.0,320.0 L662.0,315.0Z" fill="#fff7ec"/><path d="M682.5,315.5 L685.5,314.8 L687.0,317.5 L684.5,320.0 L682.3,318.5Z" fill="#fff7ec"/><path d="M651.3,358.9 L655.5,358.9 L660.7,364.1 L666.0,369.4 L671.2,374.6 L676.5,380.9 L679.6,385.1 L678.6,392.5 L675.4,389.3 L671.2,385.1 L666.0,378.8 L660.7,372.5 L656.5,366.2Z" fill="#fdd49e"/><path d="M677.5,392.5 L682.8,393.5 L689.1,394.6 L695.4,395.6 L701.7,398.8 L700.6,400.3 L693.3,398.8 L687.0,397.2 L680.7,396.1 L677.5,394.6Z" fill="#fdd49e"/><path d="M688.0,370.4 L690.1,368.3 L694.3,367.3 L699.6,364.1 L702.7,361.0 L705.9,355.7 L708.0,353.6 L711.1,356.8 L714.3,359.9 L712.2,363.1 L712.2,370.4 L710.1,374.6 L708.0,379.9 L705.9,386.2 L700.6,385.1 L694.3,383.0 L690.1,379.9 L688.0,374.6Z" fill="#fdd49e"/><path d="M688.0,370.4 L690.1,368.3 L694.3,367.3 L699.6,364.1 L702.7,361.0 L705.9,355.7 L708.0,353.6 L711.1,356.8 L714.3,359.9 L712.2,362.0 L709.0,362.6 L705.9,365.2 L703.8,367.3 L700.6,369.4 L697.5,370.4 L693.3,371.5 L690.1,371.5Z" fill="#fee8c8"/><path d="M716.4,372.5 L721.6,371.5 L729.0,370.4 L727.9,372.5 L722.6,373.6 L721.6,375.7 L725.8,376.7 L722.6,378.8 L723.7,386.2 L722.6,391.4 L720.6,389.3 L719.5,384.1 L716.4,390.4 L714.3,389.3 L714.3,382.0 L716.4,375.7Z" fill="#fdd49e"/><path d="M712.9,320.3 L717.3,320.3 L717.9,325.3 L717.3,330.2 L720.4,333.3 L716.0,335.8 L714.8,331.5 L713.6,327.1Z" fill="#fdbb84"/><path d="M719.5,334.0 L722.0,333.5 L726.0,337.0 L729.0,340.5 L728.0,342.5 L724.5,340.0 L721.0,339.0 L719.5,336.5Z" fill="#fdbb84"/><path d="M723.5,346.9 L728.4,346.3 L731.5,349.4 L732.7,354.3 L729.6,356.2 L726.5,354.3 L722.8,353.1 L721.6,350.6Z" fill="#fdbb84"/><path d="M708.0,348.5 L712.8,341.0 L713.8,341.5 L709.0,349.2Z" fill="#fdbb84"/><path d="M745.4,377.3 L752.3,376.2 L759.3,380.8 L766.2,379.6 L772.0,382.0 L772.0,401.6 L766.2,399.3 L761.6,392.3 L752.3,385.4 L747.7,382.0Z" fill="#fdd49e"/><path d="M772.0,382.0 L782.3,387.7 L787.0,394.6 L789.3,401.6 L795.0,406.2 L787.0,405.0 L780.0,401.6 L772.0,401.6Z" fill="#fff7ec"/><path d="M706.9,400.3 L712.2,399.8 L718.5,399.3 L723.2,399.8 L721.6,401.4 L713.2,401.9 L708.0,401.9Z" fill="#fdd49e"/><path d="M724.7,403.0 L734.2,399.3 L735.2,400.9 L726.8,405.1Z" fill="#fdd49e"/><path d="M745.0,394.0 L749.0,393.5 L749.0,395.0 L745.0,395.5Z" fill="#fdd49e"/><path d="M694.2,440.8 L704.7,436.0 L714.1,432.2 L719.8,424.7 L729.3,417.1 L736.9,418.0 L740.7,413.3 L746.4,408.5 L752.1,410.4 L757.8,411.4 L755.9,417.1 L761.6,424.7 L767.3,426.6 L771.0,417.1 L773.9,407.6 L776.7,417.1 L779.6,420.9 L780.5,430.3 L784.3,436.0 L788.1,441.7 L791.0,449.3 L790.0,458.8 L786.2,466.4 L778.6,475.9 L772.9,481.6 L767.3,485.4 L757.8,489.1 L752.1,489.1 L746.4,487.3 L744.5,481.6 L742.6,475.9 L738.8,477.8 L736.9,474.0 L735.0,470.2 L727.4,468.3 L717.9,470.2 L710.3,474.0 L700.9,475.9 L691.4,477.8 L687.6,475.9 L690.4,470.2 L691.4,456.9 L690.4,449.3 L692.3,443.6Z" fill="#fdd49e"/><path d="M748.3,498.6 L757.8,496.7 L755.9,501.5 L751.1,504.3Z" fill="#fdd49e"/><path d="M829.8,477.8 L832.7,479.7 L833.6,486.3 L837.4,487.3 L831.7,492.9 L826.1,496.7 L824.2,494.8 L828.0,489.1 L830.8,483.5Z" fill="#fff7ec"/><path d="M820.4,495.8 L824.2,497.7 L816.6,503.4 L809.0,507.2 L797.6,511.9 L791.9,512.9 L791.0,510.0 L799.5,505.3 L809.0,500.5 L816.6,496.7Z" fill="#fff7ec"/><path d="M791.2,391.1 L796.0,389.5 L798.3,388.3 L801.1,384.0 L802.5,386.9 L799.7,391.1 L794.0,393.2Z" fill="#fff7ec"/><path d="M806.2,390.5 L808.5,392.0 L811.0,394.5 L810.0,395.2 L806.5,392.0Z" fill="#fff7ec"/><path d="M813.0,396.5 L817.0,399.0 L816.5,400.0 L812.8,397.5Z" fill="#fff7ec"/><path d="M818.5,400.5 L824.9,406.5 L824.0,407.2 L818.0,401.5Z" fill="#fff7ec"/><path d="M834.5,419.2 L836.0,419.5 L836.6,423.4 L835.2,423.2Z" fill="#fff7ec"/><path d="M824.5,434.6 L826.0,434.3 L831.0,440.5 L829.8,441.2Z" fill="#fff7ec"/><path d="M860.5,426.5 L863.0,424.5 L864.0,426.0 L861.5,428.0Z" fill="#fff7ec"/><path d="M865.5,423.5 L868.5,422.5 L868.8,423.5 L866.0,424.5Z" fill="#fff7ec"/><path d="M773.5,388.0 L775.5,387.5 L776.0,389.0 L774.0,389.5Z" fill="#fff7ec"/><path d="M370.3,292.8 L380.6,289.9 L386.5,284.0 L398.0,278.0 L427.8,287.0 L464.7,286.9 L487.2,290.0 L493.1,298.8 L497.5,307.7 L500.5,319.5 L504.9,326.9 L512.3,334.2 L513.7,340.1 L519.6,343.1 L527.0,341.6 L534.4,340.1 L532.9,346.0 L528.5,356.4 L522.6,366.7 L515.2,375.5 L509.3,382.9 L504.6,388.0 L505.2,393.6 L504.3,403.7 L507.7,408.7 L506.9,417.2 L501.0,425.6 L494.2,430.6 L492.5,435.7 L490.9,440.8 L487.5,449.2 L485.8,453.2 L484.4,456.2 L482.2,462.0 L477.8,467.9 L472.6,471.6 L466.7,474.5 L461.6,475.3 L455.7,476.0 L450.6,477.5 L447.6,476.0 L446.2,470.9 L444.7,465.0 L444.0,460.6 L442.0,454.2 L438.6,444.1 L435.3,434.0 L431.9,423.9 L433.6,415.5 L434.4,403.7 L434.8,394.0 L432.0,389.0 L428.0,383.0 L425.6,378.0 L425.6,372.0 L427.0,368.8 L430.9,363.8 L427.7,359.5 L422.4,361.7 L416.1,362.7 L409.8,357.4 L402.4,357.4 L397.1,358.5 L388.7,359.5 L381.3,360.6 L372.9,352.2 L367.6,345.8 L363.4,341.6 L359.2,338.5 L357.1,335.3 L356.1,330.0 L357.1,325.8 L359.7,321.6 L358.7,312.1 L361.3,305.8 L365.5,298.4Z" fill="#fee8c8"/><path d="M396.9,267.8 L408.7,265.6 L419.0,264.8 L421.9,264.8 L421.9,270.7 L423.4,275.1 L426.4,279.6 L427.8,287.0 L427.8,301.7 L437.2,305.8 L424.5,312.1 L411.9,316.9 L409.8,316.9 L385.6,300.5 L379.2,297.4 L379.2,293.2 L380.6,289.9 L386.5,284.0 L392.4,281.0 L398.3,278.1 L396.9,273.7Z" fill="#fdd49e"/><path d="M388.0,268.5 L393.9,269.2 L396.9,273.7 L398.3,278.1 L392.4,281.0 L386.5,284.0 L380.6,288.4 L379.2,292.1 L368.7,292.1 L374.7,288.4 L379.2,282.5 L382.1,275.1 L385.1,270.7Z" fill="#fc8d59"/><path d="M421.9,264.8 L426.4,264.1 L427.8,269.2 L425.6,276.6 L423.4,275.1 L421.9,270.7Z" fill="#fc8d59"/><path d="M426.4,279.6 L433.7,278.1 L442.6,281.0 L448.5,283.3 L455.9,279.6 L463.2,281.8 L464.9,286.9 L464.9,315.4 L438.3,307.0 L437.2,305.8 L427.8,301.7 L427.8,287.0Z" fill="#fc8d59"/><path d="M464.7,281.8 L475.0,282.5 L482.0,283.0 L488.3,283.5 L489.5,287.0 L487.2,290.0 L493.1,298.8 L497.5,307.7 L497.9,309.1 L464.9,309.1Z" fill="#fdd49e"/><path d="M379.2,293.2 L379.2,297.4 L371.9,298.4 L370.8,304.8 L368.7,305.8 L367.6,311.1 L358.2,311.6 L361.3,305.8 L365.5,298.4 L368.7,293.2Z" fill="#fff7ec"/><path d="M379.2,297.4 L385.6,300.5 L386.6,329.0 L371.9,329.5 L365.5,325.8 L359.2,326.4 L359.7,321.6 L358.7,312.1 L367.6,311.1 L368.7,305.8 L370.8,304.8 L371.9,298.4Z" fill="#fff7ec"/><path d="M385.6,300.5 L409.8,316.9 L412.4,317.9 L411.9,325.8 L403.5,331.1 L401.4,330.0 L395.0,332.2 L389.8,338.5 L388.7,343.7 L383.5,344.8 L380.3,343.7 L379.2,338.5 L370.8,336.4 L370.8,330.0 L386.6,329.0Z" fill="#fee8c8"/><path d="M412.4,317.9 L424.5,312.1 L437.2,305.8 L441.4,307.9 L442.5,321.6 L438.2,330.0 L437.2,335.3 L428.8,335.3 L420.3,334.3 L411.9,333.2 L407.7,336.4 L403.5,331.1 L411.9,325.8Z" fill="#fff7ec"/><path d="M357.1,325.8 L365.5,325.8 L370.8,330.0 L370.8,336.4 L365.5,337.4 L359.2,336.4 L358.2,332.2Z" fill="#fdd49e"/><path d="M365.5,337.4 L370.8,336.4 L379.2,338.5 L380.3,343.7 L379.2,349.0 L375.0,350.1 L374.0,345.8 L367.6,344.8 L363.4,340.6Z" fill="#fee8c8"/><path d="M367.6,344.8 L374.0,345.8 L375.0,350.1 L379.2,353.2 L381.3,360.6 L376.1,357.4 L372.9,352.2Z" fill="#fff7ec"/><path d="M380.3,343.7 L383.5,344.8 L388.7,343.7 L392.9,342.7 L394.0,349.0 L394.0,357.4 L388.7,358.5 L382.4,360.6 L379.2,353.2 L379.2,349.0Z" fill="#fff7ec"/><path d="M389.8,338.5 L395.0,332.2 L401.4,330.0 L403.5,331.1 L407.7,336.4 L407.7,339.5 L403.5,341.6 L392.9,342.7 L388.7,343.7Z" fill="#fee8c8"/><path d="M392.9,342.7 L401.4,342.2 L402.4,349.0 L402.4,356.4 L397.1,358.5 L394.0,357.4 L394.0,349.0Z" fill="#fee8c8"/><path d="M401.4,342.2 L403.5,341.6 L407.7,339.5 L409.8,342.7 L408.7,355.3 L405.6,356.4 L402.4,356.4 L402.4,349.0Z" fill="#fff7ec"/><path d="M407.7,336.4 L411.9,333.2 L420.3,334.3 L428.8,335.3 L437.2,335.3 L439.3,338.5 L438.2,344.8 L435.1,349.0 L430.9,353.2 L427.7,357.4 L422.4,359.5 L417.2,361.7 L414.0,358.5 L409.8,355.3 L409.8,342.7Z" fill="#fee8c8"/><path d="M439.7,307.0 L441.4,307.9 L464.9,315.4 L463.5,328.1 L460.7,333.7 L462.1,342.1 L456.5,346.3 L448.1,350.6 L441.1,352.0 L439.7,346.3 L438.3,339.3 L436.9,333.7 L438.2,330.0 L442.5,321.6Z" fill="#fee8c8"/><path d="M464.9,309.1 L495.8,309.1 L498.7,321.1 L497.2,328.1 L494.4,335.1 L490.2,342.1 L487.4,339.3 L483.2,344.9 L476.2,346.3 L470.6,344.9 L464.9,347.8 L462.1,342.1 L460.7,333.7 L463.5,328.1 L464.9,315.4Z" fill="#fff7ec"/><path d="M464.9,347.8 L470.6,344.9 L476.2,346.3 L483.2,344.9 L487.4,339.3 L490.2,342.1 L490.2,353.4 L493.0,359.0 L487.4,361.8 L481.8,363.2 L479.0,360.4 L473.4,359.0 L469.2,354.8Z" fill="#fff7ec"/><path d="M441.1,352.0 L448.1,350.6 L456.5,346.3 L462.1,342.1 L464.9,347.8 L469.2,354.8 L473.4,359.0 L464.9,360.4 L456.5,361.8 L449.5,364.6 L445.3,366.0 L441.1,361.8 L440.4,356.2Z" fill="#fff7ec"/><path d="M436.9,333.7 L438.3,339.3 L439.7,346.3 L441.1,352.0 L440.4,356.2 L441.1,361.8 L445.3,366.0 L442.5,368.8 L434.0,368.8 L427.0,368.8 L425.6,365.0 L427.7,359.5 L430.9,353.2 L435.1,349.0 L438.2,344.8 L439.3,338.5 L437.2,335.3Z" fill="#fff7ec"/><path d="M427.0,368.8 L434.0,368.8 L438.3,373.0 L438.3,380.1 L435.4,387.1 L431.2,388.5 L428.0,383.0 L425.6,378.0 L425.6,372.0Z" fill="#fee8c8"/><path d="M442.5,368.8 L445.3,366.0 L449.5,364.6 L448.1,373.0 L445.3,381.5 L441.1,387.1 L435.4,389.9 L431.2,388.5 L435.4,387.1 L438.3,380.1 L438.3,373.0 L434.0,368.8Z" fill="#fff7ec"/><path d="M449.5,364.6 L456.5,361.8 L464.9,360.4 L473.4,359.0 L479.0,360.4 L481.8,363.2 L480.4,370.2 L479.0,380.1 L477.6,387.1 L479.0,395.5 L480.4,400.0 L482.4,404.0 L476.0,404.0 L472.0,401.0 L466.0,402.0 L463.9,408.7 L458.9,408.7 L453.8,397.0 L445.4,392.7 L434.8,394.0 L432.0,389.0 L435.4,389.9 L441.1,387.1 L445.3,381.5 L448.1,373.0Z" fill="#fee8c8"/><path d="M481.8,363.2 L487.4,361.8 L493.0,363.2 L491.6,371.6 L490.2,377.2 L481.8,377.2 L480.4,370.2Z" fill="#fee8c8"/><path d="M497.2,328.1 L502.9,332.3 L509.9,335.1 L515.5,339.3 L519.6,343.1 L525.5,351.9 L521.1,356.4 L513.7,359.3 L509.9,361.8 L504.3,363.2 L498.7,361.8 L493.0,359.0 L490.2,353.4 L490.2,342.1 L494.4,335.1Z" fill="#fee8c8"/><path d="M495.8,321.1 L498.7,321.1 L504.3,328.1 L509.9,335.1 L502.9,332.3 L497.2,328.1Z" fill="#fff7ec"/><path d="M519.6,343.1 L534.4,340.1 L533.2,346.0 L528.5,356.4 L522.6,366.7 L515.2,375.5 L509.9,374.4 L509.9,361.8 L513.7,359.3 L521.1,356.4 L525.5,351.9Z" fill="#fee8c8"/><path d="M493.0,359.0 L498.7,361.8 L504.3,363.2 L509.9,361.8 L509.9,374.4 L507.1,380.1 L504.3,385.7 L498.7,382.9 L490.2,377.2 L491.6,371.6 L493.0,363.2Z" fill="#fdd49e"/><path d="M481.8,377.2 L490.2,377.2 L498.7,382.9 L504.3,385.7 L505.7,391.3 L505.2,393.6 L504.3,403.7 L497.6,407.1 L489.2,405.4 L482.4,398.6 L479.1,388.5 L479.0,384.3 L480.4,378.7Z" fill="#fff7ec"/><path d="M434.8,394.0 L445.4,392.7 L453.8,397.0 L458.9,408.7 L463.9,408.7 L458.9,413.8 L458.9,425.6 L431.9,423.9 L433.6,415.5 L434.4,403.7Z" fill="#fdd49e"/><path d="M431.9,423.9 L455.5,425.6 L458.9,427.3 L455.5,429.0 L454.2,448.8 L452.8,451.0 L451.5,459.5 L444.0,460.6 L438.6,444.1 L435.3,434.0Z" fill="#fdd49e"/><path d="M459.7,407.7 L463.6,407.2 L469.5,409.7 L473.4,410.6 L477.3,413.6 L476.4,407.7 L475.4,400.8 L481.3,399.3 L486.2,401.8 L488.2,404.7 L488.2,415.6 L487.0,416.5 L481.3,418.5 L479.3,421.4 L473.4,423.4 L469.5,427.3 L464.6,426.4 L459.7,426.4Z" fill="#fee8c8"/><path d="M467.5,428.3 L473.4,423.4 L479.3,421.4 L486.2,422.4 L485.7,431.3 L484.2,439.1 L480.3,441.1 L476.4,439.1 L472.4,434.2Z" fill="#fee8c8"/><path d="M455.7,428.3 L467.5,428.3 L472.4,434.2 L476.4,439.1 L477.0,441.5 L474.1,442.9 L471.1,445.9 L468.2,448.1 L464.5,450.3 L460.9,451.0 L454.2,448.8 L453.8,439.1 L455.7,438.2Z" fill="#fff7ec"/><path d="M491.1,408.7 L499.0,408.2 L506.8,406.7 L507.8,419.5 L499.0,427.3 L493.1,432.3 L492.1,437.2 L492.1,447.0 L488.2,449.0 L485.8,453.2 L482.9,445.9 L484.2,439.1 L485.7,431.3 L486.2,422.4 L488.2,415.6 L490.1,421.4 L493.1,424.4 L494.1,417.5Z" fill="#fee8c8"/><path d="M488.2,404.7 L491.1,402.8 L491.1,409.7 L494.1,417.5 L493.1,424.4 L490.1,421.4 L488.2,415.6Z" fill="#fee8c8"/><path d="M444.0,460.6 L451.5,459.5 L452.8,451.0 L454.2,448.8 L460.9,451.0 L464.5,450.3 L468.2,448.1 L471.1,445.9 L474.1,442.9 L477.0,441.5 L481.4,442.2 L482.9,445.9 L485.8,453.2 L484.4,456.2 L482.2,462.0 L477.8,467.9 L472.6,471.6 L466.7,474.5 L461.6,475.3 L455.7,476.0 L450.6,477.5 L447.6,476.0 L446.2,470.9 L444.7,465.0Z" fill="#fc8d59"/><path d="M471.0,461.0 L474.0,460.5 L474.5,463.5 L471.5,464.5Z" fill="#fee8c8"/><path d="M481.0,451.5 L482.8,451.5 L482.8,453.8 L481.2,454.0Z" fill="#fee8c8"/><path d="M529.6,411.3 L532.1,415.5 L529.6,427.3 L526.2,437.4 L522.9,447.5 L517.8,450.0 L513.6,444.1 L514.4,437.4 L517.8,425.6 L524.6,422.2 L527.9,417.2Z" fill="#fee8c8"/><path fill="none" d="M224.3,368.1 L218.7,370.3 L217.6,376.0 L218.7,382.7 L216.5,384.9 L210.8,381.6 L205.2,378.2 L203.0,377.1"/><path fill="none" d="M216.5,384.9 L214.2,389.4 L212.0,393.9 L210.8,398.4 L215.3,402.9 L218.7,407.4 L219.8,413.0 L221.0,420.0 L223.0,428.0 L226.0,436.0 L228.8,441.0"/><path fill="none" d="M218.7,407.4 L225.4,405.2 L229.9,402.9 L232.2,407.4 L235.6,411.9 L241.2,414.2 L243.4,420.0 L245.0,426.0 L247.3,431.7"/><path fill="none" d="M240.6,443.5 L240.6,435.1 L247.3,431.7 L252.4,435.1 L254.9,441.9 L260.8,446.9 L264.2,452.8"/></g></svg>

<!-- legend -->
<div class="lab" style="left:124px">No data</div>
<div class="abs" style="left:103px;top:641px;width:43px;height:10.5px;background:#e9e9e9;border:1px solid #bbb;box-sizing:border-box"></div>
<div class="lab" style="left:161px">0</div>
<div class="lab" style="left:245px">&lt;0.01</div>
<div class="lab" style="left:330px">0.1</div>
<div class="lab" style="left:415px">0.5</div>
<div class="lab" style="left:500px">1</div>
<div class="lab" style="left:585px">2</div>
<div class="lab" style="left:670px">5</div>
<div class="lab" style="left:755px">10</div>
<div class="lab" style="left:840px">&gt;20</div>
<div class="bin" style="left:160px;width:85px;background:#fff7ec"></div>
<div class="bin" style="left:245px;width:85px;background:#fee8c8"></div>
<div class="bin" style="left:330px;width:85px;background:#fdd49e"></div>
<div class="bin" style="left:415px;width:85px;background:#fdbb84"></div>
<div class="bin" style="left:500px;width:85px;background:#fc8d59"></div>
<div class="bin" style="left:585px;width:85px;background:#ef6548"></div>
<div class="bin" style="left:670px;width:85px;background:#d7301f"></div>
<div class="bin" style="left:755px;width:85px;background:#990000"></div>
<div class="tick" style="left:160px"></div><div class="tick" style="left:245px"></div><div class="tick" style="left:330px"></div><div class="tick" style="left:415px"></div><div class="tick" style="left:500px"></div><div class="tick" style="left:585px"></div><div class="tick" style="left:670px"></div><div class="tick" style="left:755px"></div><div class="tick" style="left:840px"></div><div class="tick" style="left:124px;height:3px"></div>

<div class="abs" id="foot">Source: European CDC – Situation Update Worldwide – Last updated 2 October, 10:06 (London time)</div>
<div class="abs" id="cc">CC BY</div>
<svg class="abs" style="left:12px;top:694px" width="15" height="16" viewBox="0 0 15 16"><path d="M0 0 L14 7.5 L0 15 Z" fill="#666"/></svg>
<div class="abs date" style="left:34px">Dec 31, 2019</div>
<div class="abs" id="track"></div>
<div class="abs" id="knob"></div>
<div class="abs date" style="left:856px">Oct 2, 2020</div>
</body></html>
